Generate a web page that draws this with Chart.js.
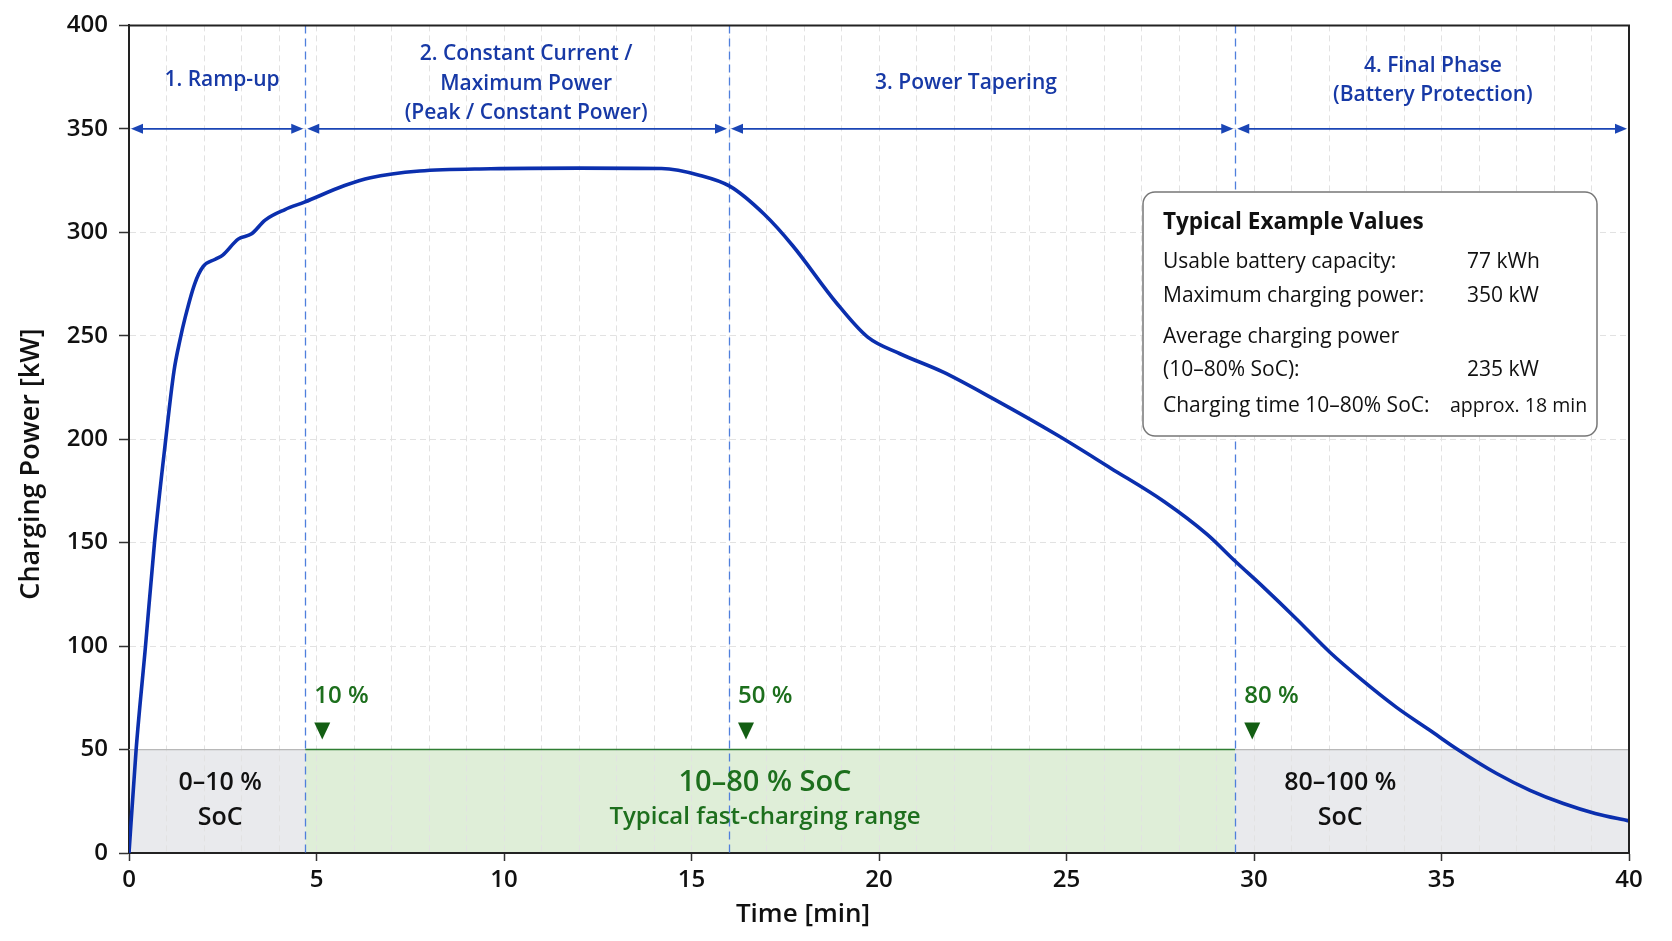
<!DOCTYPE html>
<html><head><meta charset="utf-8">
<script src="https://cdn.jsdelivr.net/npm/chart.js@4.4.1/dist/chart.umd.min.js"></script>
<style>html,body{margin:0;padding:0;background:#fff;}canvas{display:block;}</style>
</head><body>
<canvas id="c" width="1672" height="941"></canvas>
<script>
// ---- data ----
const timeMin = [0, 0.19, 0.44, 0.68, 0.98, 1.2, 1.36, 1.5, 1.75, 1.98, 2.3, 2.5, 2.91, 3.27, 3.63, 4.16, 4.68, 5.75, 6.44, 7.75, 9.65, 12, 14.2, 15.23, 16.02, 16.94, 17.7, 18.85, 19.7, 20.56, 21.7, 23.04, 24.75, 26.18, 27.6, 28.75, 29.5, 30.25, 31.14, 32.03, 32.9, 33.8, 34.7, 35.4, 36.47, 37.36, 38.25, 39.1, 40];
const powerKW = [0, 50, 100, 150, 200, 233, 248, 259, 275, 283.5, 287, 289, 296.7, 299.3, 305.9, 311, 314.6, 322.6, 326.4, 329.6, 330.7, 331, 330.8, 327.5, 322.3, 308.7, 293.5, 266.2, 249.3, 241.3, 232.5, 219.6, 202, 186, 169.9, 154, 141, 128.5, 113, 96.9, 83.3, 70.4, 59.2, 50.4, 38.4, 30.3, 23.9, 19.1, 15.5];
const phaseBounds = [0, 4.7, 16.0, 29.5, 40];
const phaseLabels = [["1. Ramp-up"], ["2. Constant Current /", "Maximum Power", "(Peak / Constant Power)"], ["3. Power Tapering"], ["4. Final Phase", "(Battery Protection)"]];
const phaseLabelX = [2.48, 10.59, 22.32, 34.77];
const phaseArrowLevel = 350;
const socMarkerLabels = ["10 %", "50 %", "80 %"];
const socBandTop = 50;
const bandLabels = [["0–10 %", "SoC"], ["10–80 % SoC", "Typical fast-charging range"], ["80–100 %", "SoC"]];
const bandLabelX = [2.43, 16.96, 32.3];
const infoTitle = "Typical Example Values";
const infoLabels = ["Usable battery capacity:", "Maximum charging power:", "Average charging power", "(10–80% SoC):", "Charging time 10–80% SoC:"];
const infoValues = ["77 kWh", "350 kW", "", "235 kW", "approx. 18 min"];
const xTitle = "Time [min]";
const yTitle = "Charging Power [kW]";

const FONT = "'Open Sans', 'Noto Sans', sans-serif";
const BLUE = '#1739a6';
const GREEN = '#1d6f1d';

function txt(ctx, s, x, y, font, color, align) {
  ctx.font = font; ctx.fillStyle = color; ctx.textAlign = align || 'center'; ctx.textBaseline = 'middle';
  ctx.fillText(s, x, y);
}

const overlay = {
  id: 'overlay',
  beforeDraw(chart) {
    const {ctx, scales: {x, y}} = chart;
    ctx.save();
    ctx.fillStyle = '#fff'; ctx.fillRect(0, 0, chart.width, chart.height);
    const yt = y.getPixelForValue(socBandTop), yb = y.getPixelForValue(0);
    const edges = [phaseBounds[0], phaseBounds[1], phaseBounds[3], phaseBounds[4]];
    const fills = ['#e9eaed', '#dfeed8', '#e9eaed'];
    for (let i = 0; i < 3; i++) {
      const x0 = x.getPixelForValue(edges[i]), x1 = x.getPixelForValue(edges[i + 1]);
      ctx.fillStyle = fills[i]; ctx.fillRect(x0, yt, x1 - x0, yb - yt);
    }
    ctx.restore();
  },
  beforeDatasetsDraw(chart) {
    const {ctx, chartArea: a, scales: {x, y}} = chart;
    ctx.save();
    const yt = y.getPixelForValue(socBandTop);
    const edges = [phaseBounds[0], phaseBounds[1], phaseBounds[3], phaseBounds[4]];
    const lines = [['#b8b8b8', 1.2], ['#2e7d32', 1.6], ['#b8b8b8', 1.2]];
    for (let i = 0; i < 3; i++) {
      ctx.strokeStyle = lines[i][0]; ctx.lineWidth = lines[i][1];
      ctx.beginPath(); ctx.moveTo(x.getPixelForValue(edges[i]), yt); ctx.lineTo(x.getPixelForValue(edges[i + 1]), yt); ctx.stroke();
    }
    ctx.strokeStyle = '#4f7fdc'; ctx.lineWidth = 1.3; ctx.setLineDash([8, 5]);
    for (let i = 1; i < phaseBounds.length - 1; i++) {
      const px = Math.round(x.getPixelForValue(phaseBounds[i])) + 0.5;
      ctx.beginPath(); ctx.moveTo(px, a.top); ctx.lineTo(px, a.bottom); ctx.stroke();
    }
    ctx.restore();
  },
  afterDraw(chart) {
    const {ctx, chartArea: a, scales: {x, y}} = chart;
    ctx.save();
    // frame
    ctx.strokeStyle = '#222'; ctx.lineWidth = 2;
    ctx.beginPath(); ctx.moveTo(a.left, a.top); ctx.lineTo(a.right, a.top); ctx.lineTo(a.right, a.bottom); ctx.stroke();
    // phase arrows + labels
    const ay = y.getPixelForValue(phaseArrowLevel);
    const labelCY = [55, 58.5, 58, 55];
    for (let i = 0; i < phaseBounds.length - 1; i++) {
      ctx.strokeStyle = '#1a45b5'; ctx.fillStyle = '#1a45b5'; ctx.lineWidth = 1.8;
      const x0 = x.getPixelForValue(phaseBounds[i]) + 2, x1 = x.getPixelForValue(phaseBounds[i + 1]) - 2;
      ctx.beginPath(); ctx.moveTo(x0 + 6, ay); ctx.lineTo(x1 - 6, ay); ctx.stroke();
      ctx.beginPath(); ctx.moveTo(x0, ay); ctx.lineTo(x0 + 12, ay - 5); ctx.lineTo(x0 + 12, ay + 5); ctx.closePath(); ctx.fill();
      ctx.beginPath(); ctx.moveTo(x1, ay); ctx.lineTo(x1 - 12, ay - 5); ctx.lineTo(x1 - 12, ay + 5); ctx.closePath(); ctx.fill();
      const cx = x.getPixelForValue(phaseLabelX[i]);
      const ls = phaseLabels[i], lh = 29.5, cy = a.top + labelCY[i];
      ls.forEach((s, k) => txt(ctx, s, cx, cy + (k - (ls.length - 1) / 2) * lh, `600 21px ${FONT}`, BLUE));
    }
    // SoC markers
    const yt = y.getPixelForValue(socBandTop);
    for (let i = 0; i < socMarkerLabels.length; i++) {
      const bx = x.getPixelForValue(phaseBounds[i + 1]);
      txt(ctx, socMarkerLabels[i], bx + 9, yt - 53, `600 24px ${FONT}`, GREEN, 'left');
      ctx.fillStyle = '#135e13';
      ctx.beginPath(); ctx.moveTo(bx + 9, yt - 27); ctx.lineTo(bx + 25, yt - 27); ctx.lineTo(bx + 17, yt - 10); ctx.closePath(); ctx.fill();
    }
    // band labels
    for (let i = 0; i < bandLabels.length; i++) {
      const cx = x.getPixelForValue(bandLabelX[i]);
      const green = i === 1;
      txt(ctx, bandLabels[i][0], cx, yt + 33, green ? `600 29px ${FONT}` : `600 25px ${FONT}`, green ? GREEN : '#111');
      txt(ctx, bandLabels[i][1], cx, yt + 68, green ? `600 24px ${FONT}` : `600 25px ${FONT}`, green ? GREEN : '#111');
    }
    // info box
    const bx = 1143, by = 192, bw = 454, bh = 244;
    ctx.beginPath(); ctx.roundRect(bx, by, bw, bh, 12);
    ctx.fillStyle = '#fff'; ctx.fill(); ctx.strokeStyle = '#777'; ctx.lineWidth = 1.5; ctx.stroke();
    txt(ctx, infoTitle, bx + 20, 223, `700 22.5px ${FONT}`, '#111', 'left');
    const rowY = [262, 296, 337, 370, 406];
    infoLabels.forEach((s, k) => {
      txt(ctx, s, bx + 20, rowY[k], `400 21px ${FONT}`, '#111', 'left');
      if (infoValues[k]) txt(ctx, infoValues[k], k === 4 ? bx + 307 : bx + 324, rowY[k], k === 4 ? `400 19.5px ${FONT}` : `400 21px ${FONT}`, '#111', 'left');
    });
    // axis titles
    txt(ctx, xTitle, 803, 915, `600 26px ${FONT}`, '#111');
    ctx.save(); ctx.translate(31, 464); ctx.rotate(-Math.PI / 2);
    txt(ctx, yTitle, 0, 0, `600 27px ${FONT}`, '#111');
    ctx.restore();
    ctx.restore();
  }
};

new Chart(document.getElementById('c'), {
  type: 'line',
  data: {datasets: [{
    data: timeMin.map((t, i) => ({x: t, y: powerKW[i]})),
    borderColor: '#0b2fae', borderWidth: 3.6, pointRadius: 0, cubicInterpolationMode: 'monotone', fill: false
  }]},
  options: {
    responsive: false, animation: false,
    layout: {padding: {top: 22, right: 43, left: 0, bottom: 0}},
    plugins: {legend: {display: false}, tooltip: {enabled: false}},
    scales: {
      x: {
        type: 'linear', min: 0, max: 40,
        afterFit(s) { s.height = 88; },
        ticks: {stepSize: 1, autoSkip: false, maxRotation: 0, padding: 5, color: '#111',
          font: {family: FONT, size: 24, weight: '600'},
          callback: v => (Math.round(v) % 5 === 0 ? String(Math.round(v)) : '')},
        grid: {color: '#e2e2e2', lineWidth: 1, tickLength: 8, tickWidth: 1.5,
          tickColor: c => (c.tick && Math.round(c.tick.value) % 5 === 0 ? '#333' : 'rgba(0,0,0,0)')},
        border: {color: '#222', width: 2, dash: [6, 4]}
      },
      y: {
        min: 0, max: 400,
        afterFit(s) { s.width = 129; },
        ticks: {stepSize: 50, padding: 11, color: '#111', font: {family: FONT, size: 24, weight: '600'}},
        grid: {color: '#e2e2e2', lineWidth: 1, tickLength: 10, tickWidth: 1.5, tickColor: '#333'},
        border: {color: '#222', width: 2, dash: [6, 4]}
      }
    }
  },
  plugins: [overlay]
});
</script>
</body></html>
